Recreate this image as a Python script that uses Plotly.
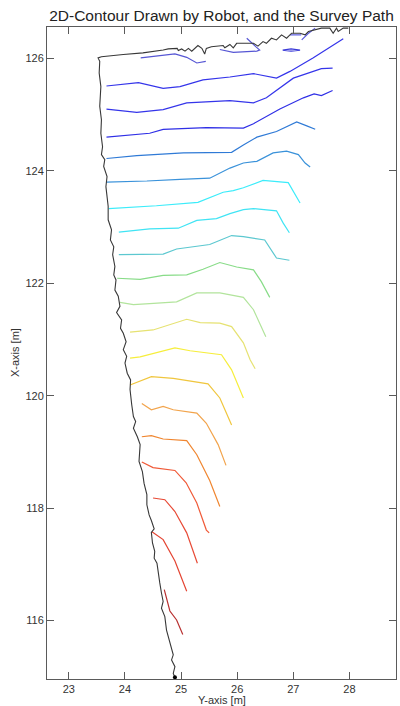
import plotly.graph_objects as go

# ---------------- data (metres) ----------------
# horizontal value = "Y-axis [m]", vertical value = "X-axis [m]"
path_h = [27.98, 27.89, 27.80, 27.77, 27.71, 27.65, 27.50, 27.39, 27.27, 27.21, 27.12, 26.97,
          26.88, 26.79, 26.70, 26.61, 26.52, 26.46, 26.37, 26.29, 26.17, 25.99, 25.93, 25.87,
          25.78, 25.75, 25.54, 25.45, 25.42, 25.37, 25.30, 25.25, 25.19, 25.13, 25.07, 25.01,
          24.95, 24.93, 24.77, 24.68, 24.32, 23.97, 23.58, 23.52,
          23.55, 23.54, 23.57, 23.55, 23.58, 23.57, 23.60, 23.58, 23.64, 23.62, 23.68, 23.66,
          23.68, 23.70, 23.70, 23.76, 23.74, 23.80, 23.78, 23.82, 23.80, 23.84, 23.82, 23.88,
          23.91, 23.85, 23.94, 23.92, 23.97, 24.02, 23.97, 24.03, 24.00, 24.04, 24.10, 24.09,
          24.12, 24.15, 24.19, 24.15, 24.22, 24.27, 24.25, 24.31, 24.34, 24.39, 24.39, 24.43,
          24.47, 24.52, 24.47, 24.49, 24.53, 24.52, 24.57, 24.59, 24.62, 24.65, 24.68, 24.65,
          24.71, 24.74, 24.77, 24.80, 24.86, 24.83, 24.89, 24.86, 24.89]
path_v = [126.54, 126.54, 126.48, 126.54, 126.45, 126.54, 126.54, 126.51, 126.48, 126.42, 126.45, 126.45,
          126.36, 126.42, 126.33, 126.36, 126.27, 126.30, 126.22, 126.27, 126.27, 126.27, 126.19, 126.25,
          126.19, 126.23, 126.21, 126.18, 126.08, 126.18, 126.23, 126.19, 126.13, 126.18, 126.13, 126.17,
          126.14, 126.18, 126.17, 126.15, 126.10, 126.07, 126.03, 126.01,
          125.95, 125.74, 125.50, 125.15, 124.91, 124.67, 124.43, 124.29, 124.20, 124.08, 123.90, 123.72,
          123.49, 123.37, 123.13, 122.95, 122.77, 122.65, 122.51, 122.30, 122.15, 122.06, 121.88, 121.77,
          121.59, 121.48, 121.35, 121.20, 121.11, 120.96, 120.82, 120.70, 120.58, 120.40, 120.28, 120.11,
          119.84, 119.63, 119.54, 119.42, 119.27, 119.13, 118.83, 118.65, 118.44, 118.24, 118.06, 117.88,
          117.78, 117.63, 117.57, 117.38, 117.23, 117.11, 117.02, 116.84, 116.67, 116.49, 116.34, 116.22,
          116.07, 115.83, 115.72, 115.57, 115.39, 115.30, 115.18, 115.06, 114.99]

# contour polylines, top (blue) to bottom (red)
contour_h = [
    [24.28, 24.89, 25.10, 25.28, 25.44],
    [25.69, 25.93, 26.35, 26.40, 26.33, 26.17],
    [26.81, 26.96, 27.12, 26.96, 26.81],
    [26.94, 27.14],
    [27.15, 27.26, 27.39],
    [23.67, 24.24, 24.68, 24.98, 25.39, 25.87, 26.29, 26.70, 26.94, 27.35, 27.89],
    [23.67, 24.21, 24.68, 25.10, 25.87, 26.29, 26.52, 27.00, 27.50, 27.70],
    [23.67, 24.21, 24.44, 24.68, 25.45, 26.11, 26.29, 26.76, 27.18, 27.37, 27.50, 27.70],
    [23.67, 24.21, 25.04, 25.90, 26.11, 26.35, 26.70, 27.06, 27.24, 27.39],
    [23.67, 24.39, 24.98, 25.51, 25.87, 26.11, 26.35, 26.64, 26.88, 27.09, 27.21, 27.30],
    [23.71, 24.56, 25.30, 25.75, 25.93, 26.11, 26.46, 26.73, 26.91, 27.12],
    [23.89, 24.44, 24.95, 25.28, 25.63, 25.87, 26.11, 26.29, 26.70, 26.82, 26.93],
    [23.89, 24.68, 24.92, 25.16, 25.51, 25.90, 26.11, 26.49, 26.70, 26.93],
    [23.86, 24.27, 24.68, 25.10, 25.39, 25.69, 25.99, 26.29, 26.43, 26.58],
    [23.91, 24.15, 24.44, 24.92, 25.28, 25.69, 26.11, 26.29, 26.40, 26.51],
    [24.09, 24.50, 25.10, 25.34, 25.69, 25.90, 26.11, 26.23, 26.32],
    [24.09, 24.27, 24.89, 25.16, 25.72, 25.90, 26.11],
    [24.09, 24.47, 24.86, 25.48, 25.69, 25.90],
    [24.30, 24.47, 24.68, 24.86, 25.28, 25.45, 25.66, 25.80],
    [24.30, 24.47, 24.68, 25.10, 25.28, 25.51, 25.69],
    [24.30, 24.50, 24.89, 25.09, 25.28, 25.45, 25.50],
    [24.50, 24.71, 24.89, 25.10, 25.29],
    [24.48, 24.68, 24.89, 25.10],
    [24.70, 24.80, 24.92, 25.03],
]
contour_v = [
    [126.01, 126.08, 126.02, 125.92, 125.95],
    [126.16, 126.11, 126.13, 126.15, 126.21, 126.36],
    [126.15, 126.17, 126.15, 126.13, 126.15],
    [126.42, 126.42],
    [126.33, 126.44, 126.54],
    [125.51, 125.57, 125.47, 125.50, 125.62, 125.67, 125.73, 125.65, 125.77, 126.01, 126.35],
    [125.10, 125.04, 125.09, 125.21, 125.25, 125.21, 125.30, 125.65, 125.82, 125.83],
    [124.60, 124.64, 124.67, 124.74, 124.77, 124.76, 124.84, 125.10, 125.30, 125.37, 125.34, 125.43],
    [124.22, 124.27, 124.32, 124.33, 124.46, 124.60, 124.70, 124.87, 124.80, 124.74],
    [123.80, 123.82, 123.85, 123.87, 124.05, 124.14, 124.17, 124.32, 124.35, 124.29, 124.14, 124.07],
    [123.33, 123.38, 123.44, 123.62, 123.65, 123.70, 123.83, 123.81, 123.79, 123.43],
    [122.91, 122.97, 122.98, 123.12, 123.15, 123.24, 123.31, 123.33, 123.29, 123.07, 122.90],
    [122.51, 122.52, 122.61, 122.64, 122.69, 122.85, 122.83, 122.77, 122.45, 122.41],
    [122.09, 122.07, 122.14, 122.15, 122.25, 122.37, 122.29, 122.24, 122.03, 121.75],
    [121.66, 121.62, 121.64, 121.67, 121.83, 121.83, 121.75, 121.53, 121.29, 121.05],
    [121.13, 121.17, 121.36, 121.30, 121.29, 121.23, 120.94, 120.64, 120.48],
    [120.67, 120.69, 120.85, 120.80, 120.73, 120.46, 119.96],
    [120.19, 120.34, 120.31, 120.21, 119.96, 119.48],
    [119.86, 119.75, 119.81, 119.75, 119.69, 119.51, 119.13, 118.76],
    [119.27, 119.29, 119.23, 119.20, 118.95, 118.49, 118.03],
    [118.82, 118.72, 118.67, 118.45, 118.09, 117.61, 117.56],
    [118.18, 118.15, 117.94, 117.56, 117.02],
    [117.58, 117.44, 117.06, 116.52],
    [116.55, 116.17, 116.01, 115.75],
]

x_ticks = [23, 24, 25, 26, 27, 28]
y_ticks = [116, 118, 120, 122, 124, 126]

# ---------------- styles ----------------
contour_colors = [
    "#5656d4", "#5656d4", "#3a3ad8", "#5a5ae0", "#5a5ae0",
    "#3434ea", "#3535ea", "#2f2fe6",
    "#2f7ad6", "#3a92da",
    "#3cecfa", "#40e4f4", "#5cc8d0",
    "#88dc88", "#b2e49c",
    "#e6e272", "#f6ee3c", "#f0c63e",
    "#f2a44c", "#f08630", "#f05a38",
    "#e84a36", "#e44432", "#b83030",
]

FONT = "Liberation Sans, Arial, sans-serif"

fig = go.Figure()
for h, v, c in zip(contour_h, contour_v, contour_colors):
    fig.add_trace(go.Scatter(x=h, y=v, mode="lines", line=dict(color=c, width=1.2),
                             hoverinfo="skip", showlegend=False))

fig.add_trace(go.Scatter(x=path_h, y=path_v, mode="lines",
                         line=dict(color="#383838", width=1.1),
                         hoverinfo="skip", showlegend=False))
fig.add_trace(go.Scatter(x=[path_h[-1]], y=[path_v[-1]], mode="markers",
                         marker=dict(color="#000000", size=4),
                         hoverinfo="skip", showlegend=False))

axis_common = dict(
    showgrid=False, zeroline=False, showline=True, mirror="ticks",
    linecolor="#5a5a5a", linewidth=1, ticks="inside", ticklen=7,
    tickcolor="#5a5a5a", tickwidth=1,
    tickfont=dict(family=FONT, size=11, color="#333333"),
    automargin=False,
)

fig.update_layout(
    width=400, height=706,
    margin=dict(l=47, r=4, t=27, b=27),
    paper_bgcolor="white", plot_bgcolor="white",
    title=dict(text="2D-Contour Drawn by Robot, and the Survey Path",
               x=0.5, xref="paper", y=1 - 15.5 / 706, yref="container",
               xanchor="center", yanchor="middle",
               font=dict(family=FONT, size=15.5, color="#222222")),
    xaxis=dict(range=[22.61, 28.83], tickvals=x_ticks, ticktext=[str(t) for t in x_ticks],
               **axis_common),
    yaxis=dict(range=[114.96, 126.56], tickvals=y_ticks, ticktext=[str(t) for t in y_ticks],
               **axis_common),
    annotations=[
        dict(text="Y-axis [m]", x=0.5, xref="paper", y=-(699.5 - 679) / 652, yref="paper",
             xanchor="center", yanchor="middle", showarrow=False,
             font=dict(family=FONT, size=11, color="#333333")),
        dict(text="X-axis [m]", x=(15 - 47) / 349, xref="paper", y=0.5, yref="paper",
             xanchor="center", yanchor="middle", showarrow=False, textangle=-90,
             font=dict(family=FONT, size=11, color="#333333")),
    ],
)

fig.write_html("out.html")
